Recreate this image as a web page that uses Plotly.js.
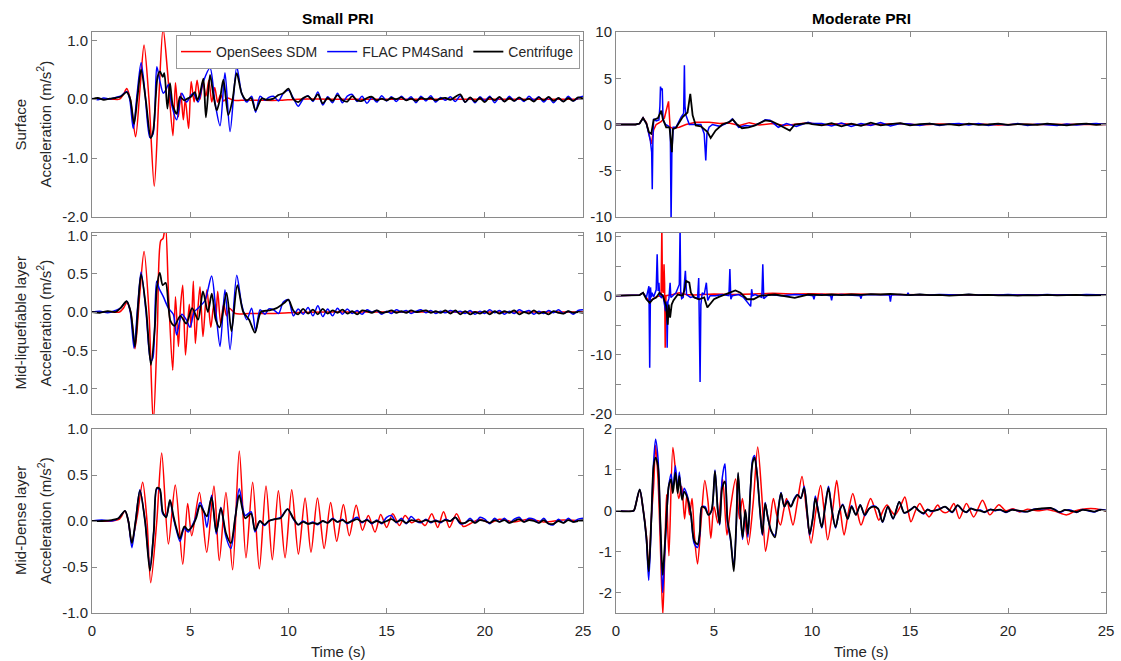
<!DOCTYPE html>
<html>
<head>
<meta charset="utf-8">
<script src="https://cdn.plot.ly/plotly-3.0.1.min.js"></script>
<style>html,body{margin:0;padding:0;background:#fff;}#chart{width:1121px;height:661px;}</style>
</head>
<body>
<div id="chart"></div>
<script>
// ---------- shared tail time grids (s) ----------
const T_tail = [10.25,10.5,10.75,11,11.25,11.5,11.75,12,12.25,12.5,12.75,13,13.25,13.5,13.75,14,14.25,14.5,14.75,15,15.25,15.5,15.75,16,16.25,16.5,16.75,17,17.25,17.5,17.75,18,18.25,18.5,18.75,19,19.25,19.5,19.75,20,20.25,20.5,20.75,21,21.25,21.5,21.75,22,22.25,22.5,22.75,23,23.25,23.5,23.75,24,24.25,24.5,24.75,25];
const TD_tail = [10.5,11,11.5,12,12.5,13,13.5,14,14.5,15,15.5,16,16.5,17,17.5,18,18.5,19,19.5,20,20.5,21,21.5,22,22.5,23,23.5,24,24.5,25];

// ---------- Panel A: Small PRI, Surface ----------
const sA_t_os = [0,1.0,1.4,1.6,1.77,1.95,2.22,2.45,2.65,2.9,3.17,3.4,3.62,3.85,4.12,4.25,4.4,4.52,4.65,4.75,4.92,5.05,5.2,5.35,5.5,5.65,5.8,5.95,6.1,6.25,6.4,6.55,6.7,6.9,7.2,7.6,8.5,9.5,10.5,12,15,18,21,25];
const sA_os   = [0,0,0,0.08,0.18,0.0,-0.64,0.2,0.92,0.0,-1.48,0.0,1.2,0.45,-0.62,0.28,-0.3,0.1,-0.35,0.0,-0.5,0.3,-0.05,0.32,0.0,0.3,0.05,0.32,-0.05,0.2,-0.05,0.08,-0.03,0.02,-0.02,-0.02,-0.02,-0.02,0,0,0,0,0,0];
const sA_t_fl = [0,0.3,0.6,0.9,1.2,1.45,1.77,1.92,2.1,2.3,2.5,2.7,2.95,3.1,3.3,3.46,3.63,3.75,3.89,4.06,4.31,4.57,4.82,5.0,5.16,5.4,5.67,6.01,6.26,6.52,6.77,7.03,7.37,7.62,7.88,8.13,8.33,8.56,8.81,9.0,9.24,9.5,9.74,10.0];
const sA_fl   = [0.01,-0.01,0.02,0.0,0.03,0.05,0.13,0.0,-0.5,0.1,0.62,0.1,-0.65,-0.6,0.55,0.3,0.1,0.15,0.25,-0.1,-0.35,0.1,-0.05,0.05,0.1,-0.05,0.3,0.53,-0.05,-0.45,0.45,-0.55,0.55,0.1,-0.05,0.05,-0.22,0.05,-0.02,0.03,0.05,-0.03,0.1,0.15];
const sA_fl_tail = [0.02,-0.12,0.0,0.06,-0.04,0.12,-0.1,0.04,-0.06,0.1,-0.06,0.05,0.08,-0.04,0.05,-0.07,0.03,-0.05,0.06,-0.03,0.04,-0.04,0.05,-0.02,0.04,-0.06,0.05,-0.03,0.06,-0.05,0.03,-0.02,0.04,-0.04,0.06,-0.05,0.03,-0.06,0.04,-0.03,0.05,-0.06,0.03,-0.04,0.05,-0.03,0.02,-0.04,0.05,-0.02,0.04,-0.05,0.03,-0.06,0.02,-0.04,0.05,-0.03,0.02,0.05];
const sA_t_cf = [0,0.3,0.6,0.9,1.2,1.45,1.77,1.95,2.14,2.32,2.5,2.75,2.99,3.12,3.34,3.46,3.6,3.68,3.84,3.97,4.11,4.31,4.48,4.69,4.86,5.04,5.24,5.36,5.5,5.67,5.8,6.01,6.18,6.35,6.52,6.69,6.94,7.15,7.37,7.62,7.88,8.1,8.33,8.64,8.89,9.24,9.49,9.74,10.0];
const sA_cf   = [0.0,0.02,-0.01,0.01,0.02,0.04,0.12,0.0,-0.42,0.05,0.5,-0.05,-0.66,-0.53,0.38,0.47,0.38,0.44,-0.16,0.27,-0.1,-0.25,0.04,-0.02,0.01,0.04,0.12,-0.02,0.1,0.35,-0.31,0.41,0.07,-0.19,0.01,0.33,-0.27,-0.02,0.44,0.1,-0.02,0.02,-0.19,0.01,-0.01,0.01,0.07,0.1,0.18];
const sA_cf_tail = [0.0,-0.05,0.02,0.05,-0.02,0.08,-0.07,0.02,-0.03,0.07,-0.02,-0.04,0.05,-0.02,-0.03,0.02,0.04,-0.02,0.01,-0.02,0.02,0.0,0.03,-0.02,0.01,-0.03,0.02,0.0,0.02,-0.02,0.01,0.02,-0.01,0.04,0.08,-0.05,0.03,-0.04,0.02,-0.05,0.03,-0.02,0.04,-0.04,0.02,-0.03,0.03,-0.02,0.01,-0.04,0.03,-0.02,0.04,-0.03,0.02,-0.04,0.02,-0.03,0.03,0.01];

// ---------- Panel B: Small PRI, Mid-liquefiable layer ----------
const sB_t_os = [0,1.0,1.4,1.6,1.77,1.97,2.19,2.42,2.65,2.9,3.12,3.33,3.5,3.62,3.74,3.9,4.11,4.25,4.4,4.5,4.62,4.76,4.95,5.05,5.16,5.26,5.38,5.5,5.65,5.85,6.05,6.2,6.3,6.4,6.55,6.7,6.85,7.0,7.3,8.0,9.0,10.0,12,15,20,25];
const sB_os   = [0,0,0,0.05,0.12,0.0,-0.48,0.2,0.79,0.0,-1.45,-0.2,0.93,0.96,1.15,0.2,-0.76,0.2,-0.45,0.05,0.35,-0.56,0.1,-0.2,0.4,-0.41,0.0,0.33,-0.32,0.29,-0.2,0.1,-0.1,0.27,-0.15,0.1,-0.05,0.05,-0.02,-0.02,-0.02,-0.01,0,0,0,0];
const sB_t_fl = [0,0.4,0.8,1.2,1.45,1.77,1.95,2.14,2.32,2.5,2.75,2.99,3.1,3.29,3.43,3.63,3.89,4.14,4.31,4.57,4.8,4.99,5.2,5.4,5.75,6.09,6.31,6.52,6.77,7.03,7.37,7.62,7.88,8.13,8.33,8.56,8.81,9.0,9.24,9.5,9.74,10.0];
const sB_fl   = [0.0,0.01,-0.01,0.02,0.05,0.14,0.0,-0.47,0.05,0.52,0.0,-0.64,-0.6,0.4,0.3,0.2,0.05,-0.03,-0.3,-0.03,-0.1,-0.2,0.0,0.05,0.15,0.47,0.0,-0.45,0.29,-0.49,0.48,0.1,-0.1,0.05,-0.25,0.03,-0.03,0.04,0.03,-0.02,0.13,0.16];
const sB_fl_tail = [-0.05,0.04,-0.03,0.06,-0.05,0.08,-0.06,0.04,-0.05,0.05,-0.03,0.04,-0.02,0.02,-0.03,0.03,0.0,0.02,-0.03,0.01,-0.02,0.03,0.0,0.02,-0.02,0.01,0.03,-0.01,0.02,-0.02,0.01,-0.01,0.02,0.0,0.01,-0.02,0.02,-0.03,0.01,-0.02,0.03,-0.01,0.02,-0.03,0.01,-0.02,0.03,0.0,0.02,-0.03,0.01,-0.02,0.02,-0.01,0.03,-0.02,0.01,-0.03,0.02,0.03];
const sB_t_cf = [0,0.4,0.8,1.2,1.45,1.77,1.97,2.19,2.35,2.5,2.75,3.0,3.2,3.3,3.45,3.6,3.75,3.9,4.0,4.2,4.5,4.8,5.1,5.4,5.65,5.9,6.1,6.3,6.5,6.85,7.1,7.4,7.7,8.0,8.3,8.6,9.0,9.4,9.8,10.0];
const sB_cf   = [0,-0.01,0.01,0.0,0.05,0.14,0.0,-0.45,0.1,0.49,0.05,-0.69,-0.2,0.31,0.51,0.35,0.38,0.05,-0.12,-0.18,-0.05,-0.15,0.05,-0.1,0.27,0.0,0.24,-0.1,-0.2,0.25,-0.25,0.35,0.0,-0.1,-0.27,0.0,0.02,0.05,0.12,0.16];
const sB_cf_tail = [0.02,-0.03,0.04,-0.02,0.03,-0.03,0.04,-0.02,0.02,-0.01,0.03,-0.02,0.01,-0.03,0.02,0.01,-0.01,0.02,-0.01,0.0,0.02,-0.01,0.01,-0.01,0.02,0.0,0.01,0.02,-0.01,0.01,-0.01,0.02,-0.02,0.02,-0.03,0.01,-0.03,0.0,-0.02,0.01,-0.03,0.01,-0.02,0.01,-0.01,0.02,-0.03,0.0,-0.02,0.02,-0.02,0.0,-0.03,0.01,-0.01,-0.02,0.01,-0.01,0.0,-0.01];

// ---------- Panel C: Small PRI, Mid-Dense layer ----------
const sC_t_os = [0,1.0,1.4,1.68,1.85,2.02,2.3,2.58,2.8,2.99,3.3,3.55,3.89,4.24,4.62,4.87,5.08,5.47,5.84,6.21,6.48,6.82,7.16,7.5,7.84,8.18,8.52,8.86,9.18,9.49,9.83,10.17,10.51,10.85,11.15,11.48,11.82,12.15,12.46,12.8,13.1,13.45,13.77,14.07,14.41,14.7,15.0,15.31,15.65,15.94,16.28,16.62,16.96,17.3,17.6,17.9,18.2,18.56,18.9,19.25,19.75,20.25,20.75,21.5,22.25,23.0,24.0,25.0];
const sC_os   = [0,0,0.02,0.11,0.0,-0.23,0.05,0.42,0.0,-0.67,0.0,0.74,-0.25,0.39,-0.47,0.19,-0.16,0.31,-0.34,0.38,-0.43,0.31,-0.53,0.76,-0.4,0.42,-0.52,0.38,-0.42,0.33,-0.4,0.34,-0.36,0.25,-0.34,0.25,-0.3,0.2,-0.22,0.18,-0.16,0.17,-0.1,0.06,-0.12,0.07,-0.07,0.08,-0.05,0.06,-0.02,0.02,-0.05,0.08,-0.07,0.1,-0.07,0.08,-0.06,-0.03,0.02,-0.02,0.02,-0.01,0.02,-0.01,0.01,0];
const sC_t_fl = [0,0.5,1.0,1.35,1.68,1.85,2.03,2.22,2.44,2.7,2.95,3.15,3.3,3.45,3.6,3.78,3.97,4.15,4.3,4.48,4.7,4.9,5.1,5.3,5.5,5.7,5.85,6.09,6.33,6.56,6.82,7.07,7.3,7.5,7.8,8.1,8.3,8.55,8.78,9.0,9.3,9.6,9.96];
const sC_fl   = [0,0.01,0.0,0.03,0.11,0.0,-0.29,0.0,0.34,0.0,-0.5,-0.1,0.35,0.34,0.08,0.05,0.22,0.03,-0.1,-0.22,-0.08,-0.12,-0.05,0.05,0.2,0.1,-0.07,0.28,-0.14,0.15,-0.17,-0.3,0.05,0.35,0.06,0.1,-0.12,0.0,-0.05,0.0,0.02,0.04,0.13];
const sC_fl_tail = [0.02,-0.04,0.0,-0.03,-0.01,-0.04,0.0,-0.02,0.03,-0.01,0.02,-0.03,0.01,0.04,-0.02,0.02,-0.03,0.01,-0.03,0.04,0.06,-0.02,0.03,-0.03,0.05,0.0,-0.02,0.02,-0.02,0.01,-0.02,0.02,0.0,0.04,-0.03,-0.02,0.03,-0.02,0.04,0.02,-0.03,0.03,-0.01,0.03,-0.02,0.02,0.04,-0.01,0.03,0.02,-0.02,0.03,-0.03,-0.04,0.02,-0.02,0.03,-0.01,0.02,0.03];
const sC_t_cf = [0,0.5,1.0,1.35,1.68,1.85,2.03,2.22,2.44,2.7,2.95,3.15,3.3,3.45,3.6,3.78,3.97,4.15,4.3,4.48,4.7,4.9,5.1,5.3,5.5,5.7,5.85,6.09,6.33,6.56,6.82,7.07,7.3,7.5,7.8,8.1,8.3,8.55,8.78,9.0,9.3,9.6,9.96];
const sC_cf   = [0,0.0,0.01,0.03,0.11,0.0,-0.24,0.0,0.33,0.0,-0.54,-0.1,0.36,0.35,0.1,0.04,0.23,0.05,-0.08,-0.19,-0.06,-0.1,-0.06,0.03,0.17,0.1,0.05,0.26,-0.12,0.14,-0.13,-0.24,0.05,0.28,0.03,0.08,-0.1,0.0,-0.04,0.0,0.02,0.03,0.13];
const sC_cf_tail = [0.03,-0.04,-0.01,-0.03,-0.02,-0.03,0.0,-0.02,0.02,-0.01,0.01,-0.02,0.0,0.02,-0.01,0.01,-0.02,0.0,-0.02,0.0,0.02,-0.01,0.01,-0.02,0.01,0.0,-0.01,0.01,-0.01,0.0,-0.01,0.01,0.0,0.04,-0.02,-0.02,0.01,-0.02,0.01,0.0,-0.02,0.01,-0.01,0.01,-0.02,0.0,0.02,-0.01,0.01,0.0,-0.02,0.01,-0.03,-0.03,0.0,-0.02,0.01,-0.01,0.0,0.01];

// ---------- Panel D: Moderate PRI, Surface ----------
const sD_t_os = [0,1.0,1.2,1.38,1.55,1.7,1.8,1.92,2.05,2.3,2.47,2.62,2.68,2.76,2.9,3.23,3.57,4.07,4.75,5.3,5.76,6.3,6.8,7.3,8.0,8.6,9.2,9.8,10.5,11.5,12.5,13.5,14.5,15.5,16.5,17.5,18.5,19.5,20.5,21.5,22.5,23.5,24.5,25];
const sD_os   = [0,0,0.1,0.72,0.2,-1.2,-2.1,-0.6,0.0,0.3,0.7,2.0,2.5,-0.3,-0.4,-0.3,0.0,0.25,0.25,0.1,0.15,-0.1,0.2,-0.05,0.1,-0.1,0.05,0.2,-0.05,0.1,-0.05,0.05,0.1,-0.05,0.05,0.0,0.05,-0.05,0.02,0.0,0.03,-0.02,0.02,0];
const sD_t_fl = [0,1.0,1.2,1.38,1.55,1.63,1.75,1.82,1.85,1.88,1.92,2.05,2.19,2.24,2.27,2.31,2.36,2.4,2.53,2.69,2.77,2.81,2.85,2.92,3.06,3.32,3.45,3.49,3.52,3.57,3.74,4.33,4.5,4.58,4.64,4.75,4.92,5.3,5.76,5.93,6.26,6.6,6.94,7.3,7.61,7.86,8.28,8.7,9.2,9.8,10.0];
const sD_fl   = [0,0,0.1,0.7,0.1,-0.65,-1.7,-3.0,-7.0,-2.0,0.6,0.4,0.5,2.0,4.1,3.7,3.9,0.5,0.0,-0.2,-0.5,-10.5,-3.0,-0.3,-0.3,0.8,1.2,6.4,2.0,1.0,0.0,0.0,-1.0,-3.9,-1.0,-0.3,0.0,-0.2,0.25,0.6,-0.3,-0.1,-0.2,0.1,0.5,0.45,-0.3,0.1,-0.2,0.25,0.1];
const sD_fl_tail = [0.1,-0.15,0.15,-0.2,0.1,-0.1,0.2,-0.15,0.1,0.05,-0.1,0.1,-0.1,0.05,0.1,-0.05,0.1,-0.1,0.05,-0.05,0.1,-0.1,0.05,0.0,-0.1,0.05,-0.05,0.05,0.1,0.0];
const sD_t_cf = [0,1.0,1.2,1.38,1.55,1.68,1.8,1.92,2.14,2.31,2.39,2.56,2.73,2.8,2.85,2.9,3.06,3.4,3.65,3.79,3.91,4.07,4.33,4.66,4.83,5.08,5.42,5.76,5.96,6.18,6.43,6.77,7.1,7.61,7.95,8.28,8.87,9.12,9.8,10.0];
const sD_cf   = [0,0,0.1,0.7,0.1,-0.85,-1.0,0.5,0.7,1.5,0.6,-0.3,-0.3,-1.5,-3.0,-0.5,-0.35,0.8,1.3,3.3,1.0,-0.1,-0.2,-0.8,-1.45,-0.65,0.0,0.25,0.55,0.0,-0.4,-0.3,-0.1,0.45,0.35,0.0,-0.65,0.0,0.15,0.05];
const sD_cf_tail = [-0.1,0.15,-0.2,0.1,-0.15,0.2,-0.1,0.05,0.15,-0.1,0.05,0.1,-0.05,0.05,-0.1,0.1,-0.05,0.0,0.1,-0.05,0.05,0.0,-0.05,0.1,0.0,-0.1,0.05,0.1,-0.05,0.05];

// ---------- Panel E: Moderate PRI, Mid-liquefiable layer ----------
const sE_t_os = [0,1.0,1.2,1.38,1.55,1.72,2.05,2.3,2.34,2.37,2.41,2.45,2.48,2.51,2.55,2.9,3.23,3.57,4.0,5.0,6.0,7.0,8.0,9.0,10.0,11.0,12.0,13.5,15.0,16.5,18.0,19.5,21.0,22.5,24.0,25.0];
const sE_os   = [0,0,0.1,0.5,-0.35,-0.9,-0.2,0.0,12.0,1.0,0.5,5.3,2.0,-8.8,0.0,0.2,0.5,0.2,0.1,0.3,0.2,0.3,0.4,0.3,0.35,0.25,0.3,0.2,0.15,0.2,0.1,0.15,0.1,0.15,0.1,0.1];
const sE_t_fl = [0,1.0,1.2,1.38,1.55,1.68,1.72,1.76,1.8,1.84,1.92,2.05,2.1,2.15,2.19,2.23,2.31,2.39,2.53,2.58,2.61,2.65,2.7,2.76,2.8,2.9,3.06,3.23,3.27,3.3,3.35,3.43,3.54,3.6,3.8,3.91,4.16,4.22,4.25,4.29,4.33,4.4,4.5,4.61,4.68,4.8,5.08,5.42,5.76,5.81,5.86,5.93,6.26,6.51,6.87,6.92,6.97,7.1,7.44,7.49,7.54,7.78,8.45,9.12,9.8,10.05,10.1,10.15,10.5,10.95,11.0,11.05,11.5,12.0,12.45,12.5,12.55,13.0,13.5,13.95,14.0,14.05,14.5,14.85,14.9,14.95,15.5,16.0,16.5,17.0,17.5,18.0,18.5,19.0,19.5,20.0,20.5,21.0,21.5,22.0,22.5,23.0,23.5,24.0,24.5,25.0];
const sE_fl   = [0,0,0.1,0.5,-0.3,1.6,-12.2,1.4,-0.3,0.5,-0.2,1.0,7.0,0.8,2.2,0.0,-0.3,0.2,-2.6,-1.0,-8.8,-1.0,-0.5,2.2,-0.3,0.0,0.5,1.9,11.5,0.8,-0.5,-0.3,4.2,0.2,-0.3,-0.2,-0.5,3.0,-2.0,-14.6,-1.5,0.5,0.2,2.2,-0.8,0.0,0.0,0.2,0.0,4.5,-0.6,0.0,0.2,-0.3,-1.8,1.1,0.0,0.2,-0.3,5.3,-0.5,0.2,0.0,0.2,0.1,0.0,-0.6,0.1,0.2,0.0,-0.8,0.1,0.2,0.1,0.0,-0.5,0.1,0.2,0.1,0.1,-1.0,0.1,0.2,0.1,0.5,0.1,0.2,0.1,0.2,0.15,0.1,0.2,0.1,0.15,0.1,0.2,0.1,0.15,0.1,0.2,0.1,0.15,0.1,0.2,0.1,0.1];
const sE_t_cf = [0,1.0,1.2,1.38,1.55,1.72,1.88,2.05,2.22,2.39,2.56,2.64,2.69,2.76,2.84,2.93,3.15,3.4,3.5,3.57,3.74,3.82,3.99,4.24,4.5,4.66,4.83,5.0,5.25,5.59,5.84,6.09,6.35,6.68,7.02,7.36,8.11,9.12,9.8];
const sE_cf   = [0,0,0.1,0.5,-0.6,-1.2,-0.6,-0.3,0.5,0.0,-1.75,-4.9,-1.5,-3.7,-1.5,-0.8,0.2,0.0,1.0,2.5,2.2,0.5,-0.3,-0.6,-0.3,-2.0,-1.2,-0.6,-0.2,0.2,0.5,0.9,0.5,-0.6,-0.6,0.0,0.2,-0.35,0.2];
const sE_cf_tail = [0.1,0.2,0.1,0.2,0.15,0.25,0.2,0.3,0.2,0.1,0.2,0.1,0.15,0.0,0.1,0.2,0.1,0.15,0.05,0.1,0.0,0.1,0.05,0.15,0.05,0.1,0.15,0.05,0.1,0.1];

// ---------- Panel F: Moderate PRI, Mid-Dense layer ----------
const sF_t_os = [0,0.9,0.96,1.21,1.38,1.55,1.67,1.8,1.92,2.02,2.14,2.26,2.39,2.5,2.58,2.7,2.9,3.05,3.2,3.35,3.5,3.62,3.75,3.88,4.0,4.16,4.35,4.53,4.7,4.84,5.0,5.2,5.44,5.66,5.85,6.1,6.3,6.45,6.75,7.0,7.23,7.45,7.63,7.85,8.03,8.2,8.39,8.55,8.7,8.85,9.03,9.25,9.49,9.72,9.95,10.2,10.44,10.62,10.8,11.05,11.26,11.45,11.64,11.85,12.08,12.3,12.5,12.75,12.99,13.2,13.41,13.62,13.83,14.03,14.23,14.5,14.74,14.9,15.05,15.28,15.5,15.73,15.97,16.2,16.42,16.6,16.79,17.0,17.24,17.52,17.88,18.25,18.7,19.07,19.53,19.89,20.26,20.6,20.99,21.5,22.0,22.45,23.0,23.45,24.0,24.45,25.0];
const sF_os   = [0,0,0.06,0.5,0.05,-0.6,-1.4,-0.2,0.6,1.6,0.8,-0.8,-2.55,-0.8,0.4,-1.1,1.55,0.9,0.3,0.6,-0.2,0.4,-0.1,0.3,-0.6,-1.3,-0.2,0.74,0.2,-0.67,0.1,-0.3,0.78,-0.59,0.1,0.78,-0.2,0.3,-0.83,0.2,1.56,0.3,-0.99,-0.3,0.3,-0.1,-0.35,0.0,0.3,0.0,-0.35,0.2,0.84,0.0,-0.79,0.0,0.62,0.0,-0.71,0.0,0.74,0.0,-0.59,-0.05,0.42,0.0,-0.35,0.0,0.3,0.05,-0.23,0.0,0.14,0.0,-0.1,0.1,0.34,0.0,-0.27,0.0,0.18,0.0,-0.15,0.0,0.14,0.0,-0.05,0.0,0.18,-0.19,0.18,-0.15,0.26,-0.1,0.15,0.0,0.05,-0.03,0.04,0.0,0.03,-0.02,-0.1,0.0,0.05,0.05,0.0];
const sF_t_ex = [0,0.9,0.96,1.21,1.38,1.55,1.67,1.8,1.92,2.02,2.14,2.26,2.38,2.46,2.56,2.69,2.81,2.9,3.03,3.15,3.23,3.37,3.48,3.65,3.82,3.99,4.16,4.28,4.38,4.55,4.71,4.88,5.05,5.19,5.29,5.42,5.56,5.69,5.84,6.01,6.13,6.23,6.35,6.46,6.6,6.73,6.85,6.97,7.07,7.19,7.36,7.47,7.61,7.74,7.91,8.11,8.28,8.42,8.59,8.75,8.92,9.09,9.26,9.43,9.6,9.76,9.88,10.05,10.17,10.34,10.5,10.67,10.84,11.01,11.2,11.4,11.57,11.82,12.02,12.24,12.46,12.69,12.91,13.14,13.37,13.6,13.87,14.14,14.45,14.7,14.87,15.1,15.24,15.45,15.69,15.9,16.06,16.42,16.79,17.15,17.43,17.7,17.88,18.1,18.34,18.6,18.8,19.1,19.34,19.6,19.89,20.2,20.6,21.0,21.3,21.6,22.17,22.4,22.63,22.9,23.17,23.5,23.8,24.09,24.4,24.7,25.0];
const sF_fl   = [0,0,0.06,0.52,0.05,-0.7,-1.7,-0.3,1.2,1.75,1.3,-0.3,-2.0,-1.3,-0.35,0.6,0.9,0.5,1.1,0.5,0.95,0.3,0.55,0.35,-0.1,-0.8,-0.9,-0.55,0.1,0.1,-0.1,0.0,1.0,0.05,-0.35,0.8,1.15,-0.3,-0.7,-1.35,-0.45,0.9,-0.1,-0.7,0.0,-0.65,0.45,1.25,1.35,0.95,-0.1,-0.6,0.2,-0.15,-0.5,-0.6,0.05,0.45,0.1,0.25,0.1,0.3,0.4,0.3,0.6,-0.1,-0.6,-0.15,0.36,-0.05,-0.42,0.1,0.6,0.05,-0.42,0.0,0.16,-0.2,0.12,-0.1,0.15,-0.12,0.05,0.12,0.05,-0.28,0.1,-0.2,0.22,-0.05,-0.03,0.06,0.1,0.0,-0.08,0.04,-0.02,0.03,0.1,-0.04,0.13,0.01,-0.04,0.06,0.01,0.02,-0.04,0.04,0.0,0.02,-0.04,0.03,-0.01,-0.02,0.04,0.04,0.06,0.03,-0.04,0.01,0.02,-0.04,0.03,0.0,-0.03,0.03,0.01];
const sF_cf   = [0,0,0.06,0.52,0.05,-0.65,-1.48,-0.23,1.1,1.3,1.1,-0.23,-1.57,-1.07,-0.3,0.6,0.77,0.43,0.93,0.43,0.85,0.27,0.47,0.3,-0.07,-0.73,-0.82,-0.5,0.1,0.06,-0.1,0.02,0.97,0.02,-0.32,0.56,0.72,-0.23,-0.65,-1.48,-0.4,0.93,-0.07,-0.65,0.02,-0.57,0.43,1.18,1.3,0.93,-0.07,-0.57,0.18,-0.15,-0.48,-0.65,0.02,0.43,0.1,0.23,0.1,0.27,0.39,0.31,0.56,-0.07,-0.57,-0.15,0.31,-0.07,-0.4,0.1,0.56,0.02,-0.4,0.0,0.14,-0.2,0.1,-0.1,0.14,-0.1,0.05,0.1,0.05,-0.27,0.1,-0.19,0.22,-0.05,-0.02,0.05,0.1,0.0,-0.06,0.03,0.0,0.02,0.1,-0.03,0.14,0.0,-0.03,0.05,0.02,0.0,-0.03,0.03,0.01,0.03,-0.03,0.02,0.0,-0.02,0.03,0.05,0.07,0.02,-0.03,0.02,0.0,-0.03,0.02,0.01,-0.02,0.02,0.0];

// ---------- labels ----------
const seriesNames = ['OpenSees SDM','FLAC PM4Sand','Centrifuge'];
const seriesColors = ['#ff0000','#0000ff','#000000'];
const seriesWidths = [1.5,1.5,1.8];
const colTitles = ['Small PRI','Moderate PRI'];
const rowTitles = ['Surface','Mid-liquefiable layer','Mid-Dense layer'];
const yLabel = 'Acceleration (m/s<sup>2</sup>)';
const xLabel = 'Time (s)';
const ticksA = [-2,-1,0,1],           ticksA_txt = ['-2.0','-1.0','0.0','1.0'];
const ticksB = [-1,-0.5,0,0.5,1],     ticksB_txt = ['-1.0','-0.5','0.0','0.5','1.0'];
const ticksD = [-10,-5,0,5,10],       ticksD_txt = ['-10','-5','0','5','10'];
const ticksE = [-20,-15,-10,-5,0,5,10], ticksE_txt = ['-20',' ','-10',' ','0',' ','10'];
const ticksF = [-2,-1,0,1,2],         ticksF_txt = ['-2','-1','0','1','2'];
const ticksX = [0,5,10,15,20,25];

// ---------- assemble ----------
const panels = [
  {ax:1, shape:'spline', s:[[sA_t_os,sA_os],[sA_t_fl.concat(T_tail),sA_fl.concat(sA_fl_tail)],[sA_t_cf.concat(T_tail),sA_cf.concat(sA_cf_tail)]]},
  {ax:2, shape:'spline', s:[[sB_t_os,sB_os],[sB_t_fl.concat(T_tail),sB_fl.concat(sB_fl_tail)],[sB_t_cf.concat(T_tail),sB_cf.concat(sB_cf_tail)]]},
  {ax:3, shape:'spline', s:[[sC_t_os,sC_os],[sC_t_fl.concat(T_tail),sC_fl.concat(sC_fl_tail)],[sC_t_cf.concat(T_tail),sC_cf.concat(sC_cf_tail)]]},
  {ax:4, shape:'linear', s:[[sD_t_os,sD_os],[sD_t_fl.concat(TD_tail),sD_fl.concat(sD_fl_tail)],[sD_t_cf.concat(TD_tail),sD_cf.concat(sD_cf_tail)]]},
  {ax:5, shape:'linear', s:[[sE_t_os,sE_os],[sE_t_fl,sE_fl],[sE_t_cf.concat(TD_tail),sE_cf.concat(sE_cf_tail)]]},
  {ax:6, shape:'spline', s:[[sF_t_os,sF_os],[sF_t_ex,sF_fl],[sF_t_ex,sF_cf]]}
];
const traces = [];
panels.forEach(p => {
  p.s.forEach((d,i) => {
    traces.push({
      x:d[0], y:d[1], type:'scatter', mode:'lines',
      name:seriesNames[i], legendgroup:seriesNames[i], showlegend:p.ax===1,
      line:{color:seriesColors[i], width:seriesWidths[i], shape:p.shape, smoothing:0.8},
      xaxis:'x'+(p.ax===1?'':p.ax), yaxis:'y'+(p.ax===1?'':p.ax), hoverinfo:'skip'
    });
  });
});

const W=1121, H=661;
const xL=[92/W,583/W], xR=[616/W,1106/W];
const yT=[1-217/H,1-32/H], yM=[1-414/H,1-233/H], yB=[1-613/H,1-429/H];
const axCol='#8a8a8a';
function xa(dom, anchor, labels){
  return {domain:dom, anchor:anchor, range:[0,25], tickvals:ticksX, showticklabels:labels,
    ticks:'inside', ticklen:5, tickcolor:axCol, showline:true, linecolor:axCol, linewidth:1, mirror:'ticks',
    showgrid:false, zeroline:false, ticklabelstandoff:4, tickfont:{size:15,color:'#262626'}};
}
function ya(dom, anchor, range, tv, tt){
  return {domain:dom, anchor:anchor, range:range, tickvals:tv, ticktext:tt, ticks:'inside', ticklen:5, tickcolor:axCol,
    showline:true, linecolor:axCol, linewidth:1, mirror:'ticks', showgrid:false, zeroline:false,
    tickfont:{size:15,color:'#262626'}};
}
const layout = {
  width:W, height:H, margin:{l:0,r:0,t:0,b:0}, paper_bgcolor:'#fff', plot_bgcolor:'#fff',
  font:{family:'Liberation Sans, Arial, sans-serif', size:15, color:'#262626'},
  showlegend:true,
  legend:{x:580/W, xanchor:'right', y:1-35/H, yanchor:'top', orientation:'h', bgcolor:'#fff',
    bordercolor:'#9a9a9a', borderwidth:1, font:{size:14,color:'#262626'}, itemwidth:30, tracegroupgap:0},
  xaxis: xa(xL,'y',false),  yaxis: ya(yT,'x',[-2,1.14],ticksA,ticksA_txt),
  xaxis2:xa(xL,'y2',false), yaxis2:ya(yM,'x2',[-1.33,1.03],ticksB,ticksB_txt),
  xaxis3:xa(xL,'y3',true),  yaxis3:ya(yB,'x3',[-1,1],ticksB,ticksB_txt),
  xaxis4:xa(xR,'y4',false), yaxis4:ya(yT,'x4',[-10,10],ticksD,ticksD_txt),
  xaxis5:xa(xR,'y5',false), yaxis5:ya(yM,'x5',[-20,10.6],ticksE,ticksE_txt),
  xaxis6:xa(xR,'y6',true),  yaxis6:ya(yB,'x6',[-2.5,2],ticksF,ticksF_txt),
  annotations:[]
};
const ctrX=[(xL[0]+xL[1])/2,(xR[0]+xR[1])/2];
colTitles.forEach((t,i)=>layout.annotations.push({text:'<b>'+t+'</b>', xref:'paper', yref:'paper', x:ctrX[i], y:1-19/H,
  xanchor:'center', yanchor:'middle', showarrow:false, font:{size:15.5,color:'#000'}}));
ctrX.forEach(cx=>layout.annotations.push({text:xLabel, xref:'paper', yref:'paper', x:cx, y:1-651/H,
  xanchor:'center', yanchor:'middle', showarrow:false, font:{size:15,color:'#262626'}}));
const rowC=[(yT[0]+yT[1])/2,(yM[0]+yM[1])/2,(yB[0]+yB[1])/2];
rowTitles.forEach((t,i)=>{
  layout.annotations.push({text:t, xref:'paper', yref:'paper', x:20/W, y:rowC[i], textangle:-90,
    xanchor:'center', yanchor:'middle', showarrow:false, font:{size:15,color:'#262626'}});
  layout.annotations.push({text:yLabel, xref:'paper', yref:'paper', x:44/W, y:rowC[i], textangle:-90,
    xanchor:'center', yanchor:'middle', showarrow:false, font:{size:15,color:'#262626'}});
});
Plotly.newPlot('chart', traces, layout, {displayModeBar:false, staticPlot:true});
</script>
</body>
</html>
